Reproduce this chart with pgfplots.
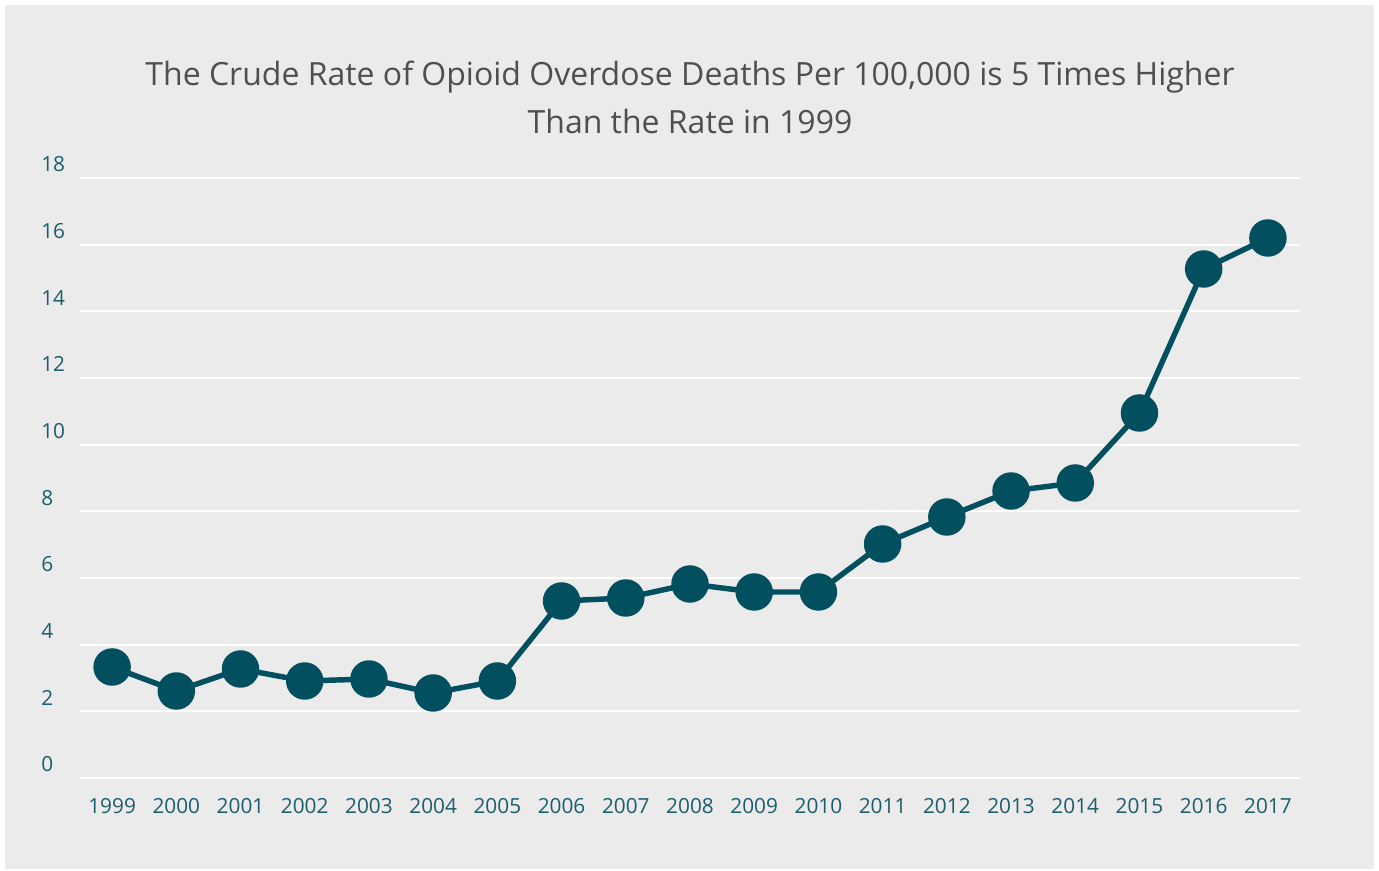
\documentclass[border=0pt]{standalone}
\usepackage{fontspec}
\setmainfont{Open Sans}
\usepackage{pgfplots}
\pgfplotsset{compat=1.18}

\definecolor{bgGray}{HTML}{EBEBEB}
\definecolor{teal}{HTML}{02505F}
\definecolor{tickTeal}{HTML}{1B5D6C}
\definecolor{titleGray}{HTML}{4F4F4F}

\begin{document}
\begin{tikzpicture}
  % page 1379x871 px, 1px = 0.75pt
  \fill[white] (0,0) rectangle (1034.25pt,653.25pt);
  \fill[bgGray] (3.75pt,1.5pt) rectangle (1030.5pt,649.5pt);
  \begin{axis}[
    name=ax,
    at={(60pt,69.75pt)}, anchor=south west,
    scale only axis,
    width=915pt, height=450pt,
    xmin=-0.5, xmax=18.5,
    ymin=0, ymax=18,
    axis line style={draw=none},
    tick style={draw=none},
    ytick={0,2,...,18},
    xtick={0,...,18},
    xticklabels={1999,2000,2001,2002,2003,2004,2005,2006,2007,2008,2009,2010,2011,2012,2013,2014,2015,2016,2017},
    ymajorgrids,
    grid style={draw=white!96!bgGray, line width=1.6pt},
    /pgf/number format/assume math mode=true,
    ticklabel style={font=\fontsize{15.6pt}{18pt}\selectfont, text=tickTeal, inner sep=0pt},
    yticklabel style={anchor=base west, xshift=-29.25pt, yshift=4.5pt},
    xticklabel style={anchor=base, yshift=-27pt},
  ]
  \addplot[teal, line width=4.1pt, mark=*, mark size=12pt,
           mark options={fill=teal, draw=none}]
    coordinates {
      (0,3.33) (1,2.61) (2,3.27) (3,2.91) (4,2.97) (5,2.55) (6,2.91)
      (7,5.31) (8,5.40) (9,5.82) (10,5.58) (11,5.58) (12,7.02) (13,7.83)
      (14,8.61) (15,8.85) (16,10.95) (17,15.27) (18,16.20)
    };
  \end{axis}
  % title
  \node[anchor=base, yshift=69pt, font=\fontsize{24pt}{30pt}\selectfont, text=titleGray]
    at (ax.north) {The Crude Rate of Opioid Overdose Deaths Per 100,000 is 5 Times Higher};
  \node[anchor=base, yshift=33pt, font=\fontsize{24pt}{30pt}\selectfont, text=titleGray]
    at (ax.north) {Than the Rate in 1999};
\end{tikzpicture}
\end{document}
